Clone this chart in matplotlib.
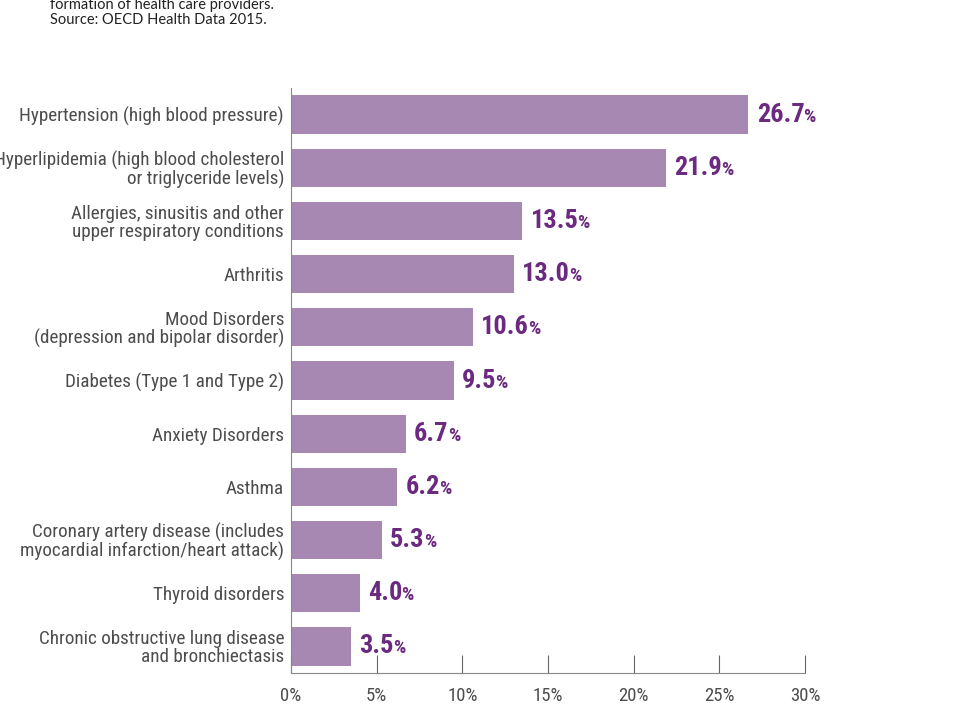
import matplotlib
matplotlib.use("Agg")
import matplotlib.pyplot as plt
from matplotlib import font_manager

# data
conditions = [
    "Hypertension (high blood pressure)",
    "Hyperlipidemia (high blood cholesterol\nor triglyceride levels)",
    "Allergies, sinusitis and other\nupper respiratory conditions",
    "Arthritis",
    "Mood Disorders\n(depression and bipolar disorder)",
    "Diabetes (Type 1 and Type 2)",
    "Anxiety Disorders",
    "Asthma",
    "Coronary artery disease (includes\nmyocardial infarction/heart attack)",
    "Thyroid disorders",
    "Chronic obstructive lung disease\nand bronchiectasis",
]
values = [26.7, 21.9, 13.5, 13.0, 10.6, 9.5, 6.7, 6.2, 5.3, 4.0, 3.5]
xticks = [0, 5, 10, 15, 20, 25, 30]
xtick_labels = ["0%", "5%", "10%", "15%", "20%", "25%", "30%"]

names = {f.name for f in font_manager.fontManager.ttflist}
def pick(cands):
    for c in cands:
        if c in names:
            return c
    return "DejaVu Sans"

narrow = pick(["Roboto Condensed", "Archivo Narrow", "Liberation Sans Narrow", "Asap Condensed"])
top_font = pick(["Lato", "Noto Sans", "DejaVu Sans"])

bar_color = "#a688b3"
val_color = "#6b2a80"
gray = "#4d4d4d"

fig = plt.figure(figsize=(9.73, 7.19), dpi=100)
ax = fig.add_axes([291/973, 1-673/719, 514/973, 585/719])

ypos = list(range(len(values)))
ax.barh(ypos, values, height=0.72, color=bar_color)
ax.set_ylim(len(values)-0.5, -0.5)
ax.set_xlim(0, 30)

ax.set_yticks(ypos)
ax.set_yticklabels(conditions, fontsize=13.8, family=narrow, color=gray,
                   linespacing=1.0)
ax.tick_params(axis="y", length=0, pad=5)
ax.set_xticks(xticks)
ax.set_xticklabels(xtick_labels, fontsize=13.5, family=narrow, color=gray)
ax.tick_params(axis="x", direction="in", length=13, color="#666666", pad=10)

for s in ["top", "right"]:
    ax.spines[s].set_visible(False)
ax.spines["left"].set_color("#888888")
ax.spines["bottom"].set_color("#888888")

fig.canvas.draw()
renderer = fig.canvas.get_renderer()
for y, v in zip(ypos, values):
    t = ax.annotate("%.1f" % v, (v, y), xytext=(6, 0), textcoords="offset points",
                    ha="left", va="center", fontsize=19, fontweight="bold",
                    family=narrow, color=val_color)
    bb = t.get_window_extent(renderer)
    x_disp = bb.x1 - 1
    xd, _ = ax.transData.inverted().transform((x_disp, 0))
    ax.annotate("%", (xd, y), xytext=(0, -1.5), textcoords="offset points",
                ha="left", va="center", fontsize=14, fontweight="bold",
                family=narrow, color=val_color, annotation_clip=False)

fig.text(50/973, 1-5/719, "formation of health care providers.", fontsize=10.5,
         family=top_font, color="#222222", va="center")
fig.text(50/973, 1-20/719, "Source: OECD Health Data 2015.", fontsize=10.5,
         family=top_font, color="#222222", va="center")

fig.savefig("out.png", dpi=100)
